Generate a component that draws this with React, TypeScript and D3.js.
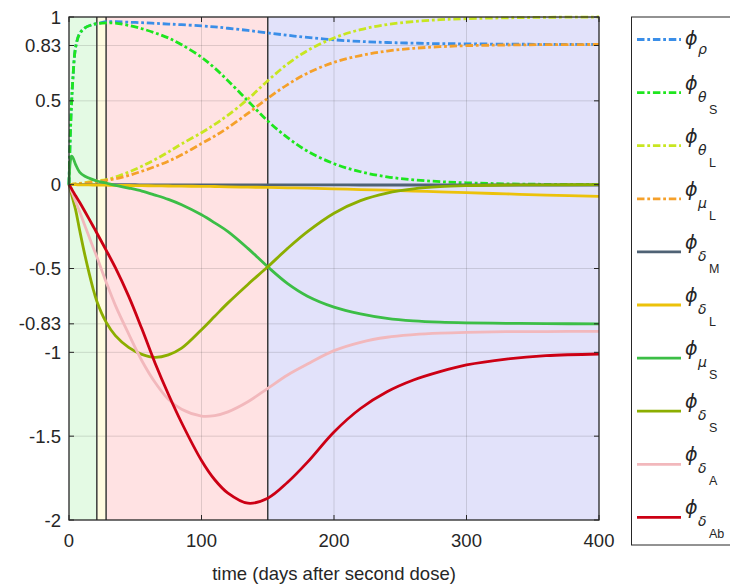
import React from "react";
import * as d3 from "d3";

const T = [0,1,2,3,5,8,12,18,21,28,35,45,55,65,75,85,100,110,120,135,150,165,180,200,220,240,260,280,300,330,360,400];

const rho    = [0,0.3,0.5,0.64,0.82,0.9,0.935,0.955,0.96,0.972,0.972,0.969,0.966,0.962,0.958,0.954,0.947,0.941,0.933,0.92,0.905,0.891,0.878,0.864,0.854,0.848,0.844,0.841,0.840,0.838,0.837,0.836];
const thetaS = [0,0.3,0.5,0.64,0.82,0.9,0.935,0.955,0.96,0.965,0.963,0.95,0.93,0.905,0.875,0.835,0.76,0.695,0.62,0.5,0.38,0.28,0.2,0.125,0.077,0.047,0.029,0.018,0.011,0.005,0.002,0.001];
const thetaL = [0,0.001,0.002,0.003,0.005,0.008,0.012,0.02,0.023,0.03,0.045,0.075,0.11,0.15,0.195,0.243,0.31,0.36,0.415,0.51,0.62,0.72,0.8,0.875,0.925,0.955,0.973,0.984,0.99,0.995,0.998,1.0];
const muL    = [0,0.001,0.002,0.003,0.004,0.006,0.009,0.015,0.018,0.025,0.035,0.055,0.08,0.108,0.14,0.178,0.245,0.29,0.34,0.425,0.515,0.597,0.665,0.73,0.77,0.797,0.813,0.823,0.829,0.833,0.835,0.836];
const deltaM = [0,0,0,0,0,0,0,0,0,0,0,0,-0.001,-0.001,-0.001,-0.001,-0.001,-0.001,-0.001,-0.001,-0.001,-0.001,-0.001,-0.001,-0.002,-0.002,-0.002,-0.002,-0.002,-0.002,-0.002,-0.002];
const deltaL = [0,0,0,0,0,-0.001,-0.001,-0.002,-0.002,-0.003,-0.004,-0.005,-0.006,-0.007,-0.008,-0.009,-0.01,-0.011,-0.013,-0.015,-0.016,-0.019,-0.021,-0.025,-0.029,-0.033,-0.038,-0.043,-0.048,-0.055,-0.062,-0.07];
const muS    = [0,0.14,0.17,0.16,0.12,0.075,0.05,0.03,0.022,0.01,-0.004,-0.02,-0.038,-0.062,-0.088,-0.12,-0.18,-0.228,-0.28,-0.38,-0.49,-0.59,-0.665,-0.73,-0.77,-0.797,-0.812,-0.82,-0.824,-0.827,-0.829,-0.83];
const deltaS = [0,-0.03,-0.06,-0.09,-0.15,-0.27,-0.42,-0.615,-0.695,-0.82,-0.9,-0.97,-1.012,-1.03,-1.015,-0.975,-0.865,-0.785,-0.705,-0.595,-0.49,-0.38,-0.28,-0.17,-0.095,-0.05,-0.025,-0.012,-0.006,-0.002,-0.001,0];
const deltaA = [0,-0.02,-0.04,-0.06,-0.1,-0.16,-0.245,-0.37,-0.43,-0.58,-0.72,-0.89,-1.05,-1.18,-1.28,-1.34,-1.38,-1.377,-1.355,-1.295,-1.215,-1.135,-1.07,-0.99,-0.94,-0.91,-0.895,-0.886,-0.881,-0.877,-0.876,-0.875];
const deltaAb= [0,-0.013,-0.026,-0.04,-0.066,-0.105,-0.16,-0.245,-0.288,-0.39,-0.495,-0.665,-0.86,-1.065,-1.25,-1.42,-1.645,-1.76,-1.84,-1.9,-1.87,-1.775,-1.655,-1.475,-1.335,-1.235,-1.165,-1.115,-1.075,-1.04,-1.02,-1.01];

const seriesNames = ["rho","thetaS","thetaL","muL","deltaM","deltaL","muS","deltaS","deltaA","deltaAb"];
const seriesValues = [rho,thetaS,thetaL,muL,deltaM,deltaL,muS,deltaS,deltaA,deltaAb];
const seriesColors = ["#3a8ee8","#1ee61e","#c8e620","#f5a02a","#4f6275","#ecc20a","#3cbe46","#8cae00","#f2b8bc","#cc0014"];
const seriesDashed = [true,true,true,true,false,false,false,false,false,false];
const legendSub1 = ["ρ","θ","θ","μ","δ","δ","μ","δ","δ","δ"];
const legendSub2 = ["","S","L","L","M","L","S","S","A","Ab"];

const phases = [
  { from: 0, to: 21, color: "#e4fae4" },
  { from: 21, to: 28, color: "#fffbe0" },
  { from: 28, to: 150, color: "#ffe2e3" },
  { from: 150, to: 400, color: "#e2e2fa" },
];
const eventLines = [21, 28, 150];
const xTicks = [0, 100, 200, 300, 400];
const yTicks = [-2, -1.5, -1, -0.83, -0.5, 0, 0.5, 0.83, 1];
const yTickLabels = ["-2", "-1.5", "-1", "-0.83", "-0.5", "0", "0.5", "0.83", "1"];

const L = 69, R = 599, TOP = 17, BOT = 520;
const FONT = "'Liberation Sans', Arial, Helvetica, sans-serif";
const TXT = "#262626";
const DASH = "7.5,2.8,2.8,2.8";

export default function App() {
  const x = d3.scaleLinear().domain([0, 400]).range([L, R]);
  const y = d3.scaleLinear().domain([-2, 1]).range([BOT, TOP]);
  const line = d3.line<[number, number]>().x(d => x(d[0])).y(d => y(d[1])).curve(d3.curveCatmullRom.alpha(0.5));

  const legX = 631.5, legTop = 17, legBot = 545;
  const itemY = (i: number) => 39.5 + i * 53.1;

  return (
    <svg width={730} height={584} style={{ position: "absolute", left: 0, top: 0 }} fontFamily={FONT}>
      <rect x={0} y={0} width={730} height={584} fill="#fff" />
      {phases.map((p, i) => (
        <rect key={i} x={x(p.from)} y={TOP} width={x(p.to) - x(p.from)} height={BOT - TOP} fill={p.color} />
      ))}
      {xTicks.slice(1, -1).map(t => (
        <line key={"gx" + t} x1={x(t)} x2={x(t)} y1={TOP} y2={BOT} stroke="#262626" strokeOpacity={0.15} strokeWidth={1} />
      ))}
      {yTicks.slice(1, -1).map(t => (
        <line key={"gy" + t} x1={L} x2={R} y1={y(t)} y2={y(t)} stroke="#262626" strokeOpacity={0.15} strokeWidth={1} />
      ))}
      {eventLines.map(t => (
        <line key={"ev" + t} x1={x(t)} x2={x(t)} y1={TOP} y2={BOT} stroke="#3a3a3a" strokeWidth={1.5} />
      ))}
      {seriesValues.map((vals, i) => (
        <path key={seriesNames[i]} d={line(T.map((t, j) => [t, vals[j]] as [number, number])) || ""}
          fill="none" stroke={seriesColors[i]} strokeWidth={2.8}
          strokeDasharray={seriesDashed[i] ? DASH : undefined} />
      ))}
      <rect x={L} y={TOP} width={R - L} height={BOT - TOP} fill="none" stroke={TXT} strokeWidth={1.3} />
      {xTicks.map(t => (
        <g key={"xt" + t}>
          <line x1={x(t)} x2={x(t)} y1={BOT} y2={BOT - 5} stroke={TXT} strokeWidth={1} />
          <line x1={x(t)} x2={x(t)} y1={TOP} y2={TOP + 5} stroke={TXT} strokeWidth={1} />
          <text x={x(t)} y={547} textAnchor="middle" fontSize={18.5} fill={TXT}>{t}</text>
        </g>
      ))}
      {yTicks.map((t, i) => (
        <g key={"yt" + t}>
          <line x1={L} x2={L + 5} y1={y(t)} y2={y(t)} stroke={TXT} strokeWidth={1} />
          <line x1={R} x2={R - 5} y1={y(t)} y2={y(t)} stroke={TXT} strokeWidth={1} />
          <text x={61} y={y(t)} dy="0.36em" textAnchor="end" fontSize={18.5} fill={TXT}>{yTickLabels[i]}</text>
        </g>
      ))}
      <text x={(L + R) / 2} y={580} textAnchor="middle" fontSize={18.5} fill={TXT}>time (days after second dose)</text>
      <rect x={legX} y={legTop} width={120} height={legBot - legTop} fill="#fff" stroke={TXT} strokeWidth={1} />
      {seriesNames.map((n, i) => {
        const cy = itemY(i);
        const single = legendSub2[i] === "";
        const phiBase = single ? cy + 5 : cy - 3;
        const s1Base = single ? cy + 14 : cy + 9;
        const s2Base = cy + 21;
        return (
          <g key={"lg" + n}>
            <line x1={637} x2={681} y1={cy} y2={cy} stroke={seriesColors[i]} strokeWidth={2.8}
              strokeDasharray={seriesDashed[i] ? DASH : undefined} />
            <text x={685} y={phiBase} fontSize={19} fontStyle="italic" fontFamily="'DejaVu Sans', sans-serif" fill={TXT}>ϕ</text>
            <text x={698} y={s1Base} fontSize={14} fontStyle="italic" fontFamily="'DejaVu Sans', sans-serif" fill={TXT}>{legendSub1[i]}</text>
            {!single && <text x={709} y={s2Base} fontSize={12.5} fill={TXT}>{legendSub2[i]}</text>}
          </g>
        );
      })}
    </svg>
  );
}
